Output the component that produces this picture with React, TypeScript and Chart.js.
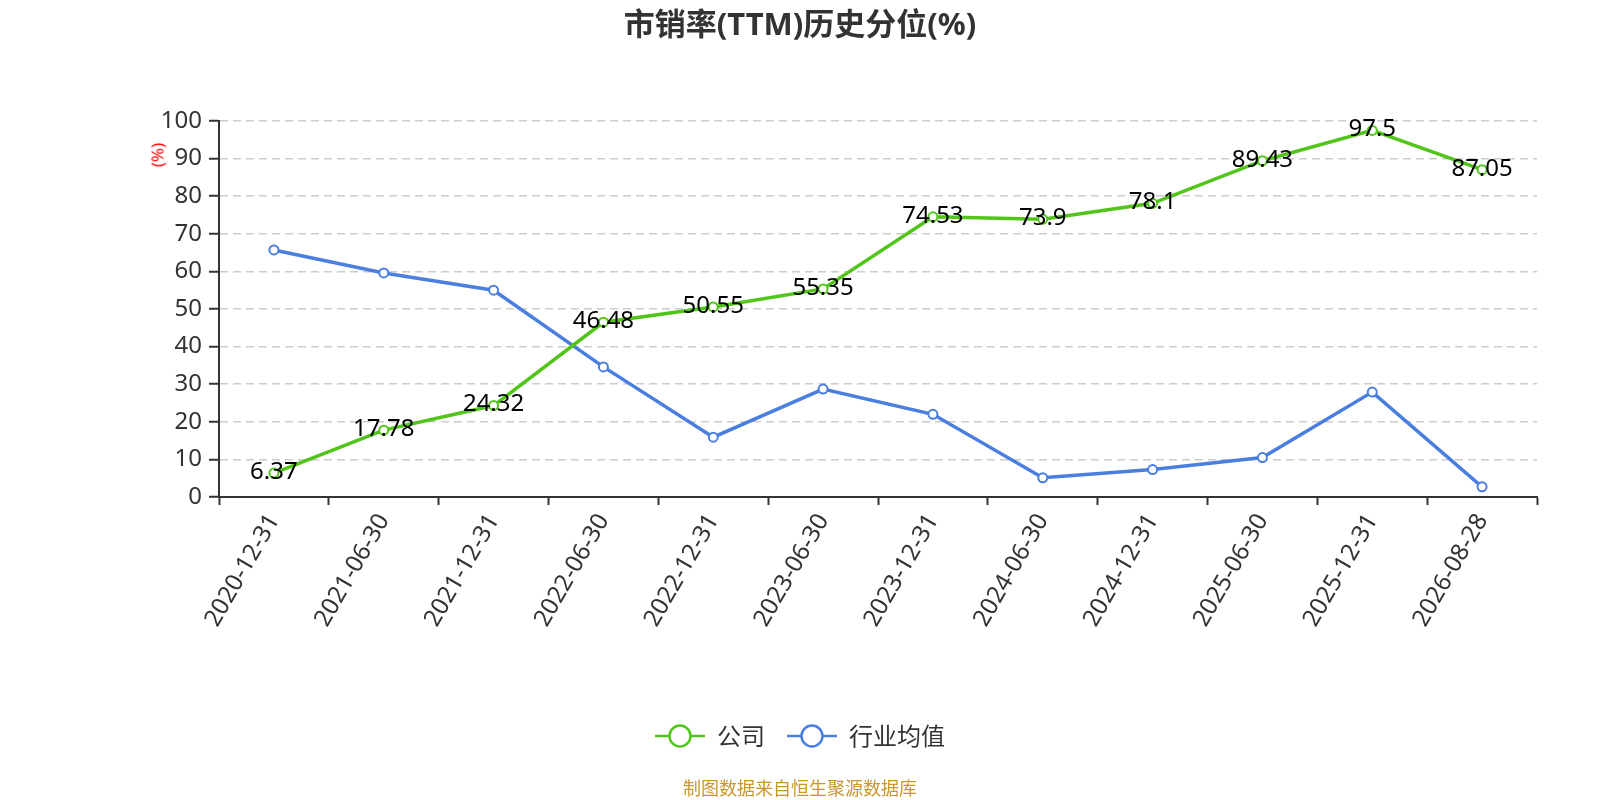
import { useEffect, useRef } from "react";
import { Chart, registerables } from "chart.js";

Chart.register(...registerables);

const FONT = '"Noto Sans", "Noto Sans CJK SC", sans-serif';

const dates = [
  "2020-12-31", "2021-06-30", "2021-12-31", "2022-06-30",
  "2022-12-31", "2023-06-30", "2023-12-31", "2024-06-30",
  "2024-12-31", "2025-06-30", "2025-12-31", "2026-08-28",
];

// 公司
const companyValues = [
  6.37, 17.78, 24.32, 46.48, 50.55, 55.35,
  74.53, 73.9, 78.1, 89.43, 97.5, 87.05,
];

// 行业均值 (no labels)
const industryValues = [
  65.7, 59.6, 55.0, 34.6, 15.9, 28.7,
  22.0, 5.1, 7.3, 10.5, 27.9, 2.7,
];

const yMin = 0;
const yMax = 100;
const yStep = 10;

const GREEN = "#52c41a";
const BLUE = "#4a7fe0";

// value labels over the company line
const valueLabels = {
  id: "valueLabels",
  afterDatasetsDraw(chart: Chart) {
    const { ctx } = chart;
    const meta = chart.getDatasetMeta(0);
    ctx.save();
    ctx.font = `24px ${FONT}`;
    ctx.fillStyle = "#000";
    ctx.textAlign = "center";
    ctx.textBaseline = "middle";
    meta.data.forEach((pt, i) => {
      ctx.fillText(String(companyValues[i]), pt.x, pt.y - 1);
    });
    ctx.restore();
  },
};

function LegendIcon({ color }: { color: string }) {
  return (
    <svg width="50" height="26" style={{ display: "block" }}>
      <line x1="0" y1="13" x2="50" y2="13" stroke={color} strokeWidth="2.5" />
      <circle cx="25" cy="13" r="10.5" fill="#fff" stroke={color} strokeWidth="2.5" />
    </svg>
  );
}

export default function App() {
  const canvasRef = useRef<HTMLCanvasElement>(null);

  useEffect(() => {
    if (!canvasRef.current) return;
    const chart = new Chart(canvasRef.current, {
      type: "line",
      data: {
        labels: dates,
        datasets: [
          {
            label: "公司",
            data: companyValues,
            borderColor: GREEN,
            backgroundColor: "#fff",
            borderWidth: 3.5,
            pointRadius: 4.5,
            pointBorderWidth: 2,
            pointBackgroundColor: "#fff",
            pointBorderColor: GREEN,
            tension: 0,
          },
          {
            label: "行业均值",
            data: industryValues,
            borderColor: BLUE,
            backgroundColor: "#fff",
            borderWidth: 3.5,
            pointRadius: 4.5,
            pointBorderWidth: 2,
            pointBackgroundColor: "#fff",
            pointBorderColor: BLUE,
            tension: 0,
          },
        ],
      },
      options: {
        responsive: true,
        maintainAspectRatio: false,
        animation: false,
        layout: { padding: { top: 121, left: 0, right: 63, bottom: 153 } },
        plugins: {
          legend: { display: false },
          title: { display: false },
          tooltip: { enabled: false },
        },
        scales: {
          x: {
            offset: true,
            afterFit: (scale) => {
              scale.height = 150;
            },
            grid: {
              offset: true,
              drawOnChartArea: false,
              tickLength: 8,
              tickWidth: 2,
              tickColor: "#333",
            },
            border: { display: true, color: "#333", width: 2 },
            ticks: {
              autoSkip: false,
              minRotation: 60,
              maxRotation: 60,
              padding: 4,
              color: "#333",
              font: { size: 24, family: FONT },
            },
          },
          y: {
            min: yMin,
            max: yMax,
            afterFit: (scale) => {
              scale.width = 219;
            },
            grid: {
              color: "#cccccc",
              lineWidth: 1.5,
              tickLength: 10,
              tickWidth: 2,
              tickColor: "#333",
            },
            border: { display: true, color: "#333", width: 2, dash: [8, 5] },
            ticks: {
              stepSize: yStep,
              padding: 7,
              color: "#333",
              font: { size: 24, family: FONT },
            },
          },
        },
      },
      plugins: [valueLabels],
    });
    return () => chart.destroy();
  }, []);

  return (
    <div
      style={{
        position: "absolute",
        left: 0,
        top: 0,
        width: 1600,
        height: 800,
        background: "#fff",
        fontFamily: FONT,
        overflow: "hidden",
      }}
    >
      <canvas ref={canvasRef} />
      <div
        style={{
          position: "absolute",
          top: 3,
          left: 0,
          width: 1600,
          textAlign: "center",
          fontSize: 31,
          fontWeight: 700,
          color: "#333",
          lineHeight: "40px",
        }}
      >
        市销率(TTM)历史分位(%)
      </div>
      <div
        style={{
          position: "absolute",
          left: 157,
          top: 155,
          transform: "translate(-50%, -50%) rotate(-90deg)",
          color: "#ff0000",
          fontSize: 17,
          lineHeight: "17px",
          whiteSpace: "nowrap",
        }}
      >
        (%)
      </div>
      <div
        style={{
          position: "absolute",
          top: 721,
          left: 0,
          width: 1600,
          display: "flex",
          justifyContent: "center",
          alignItems: "center",
          gap: 12,
          fontSize: 24,
          color: "#333",
          lineHeight: "30px",
        }}
      >
        <div style={{ display: "flex", alignItems: "center", gap: 12 }}>
          <LegendIcon color={GREEN} />
          <span>公司</span>
        </div>
        <div style={{ display: "flex", alignItems: "center", gap: 12, marginLeft: 10 }}>
          <LegendIcon color={BLUE} />
          <span>行业均值</span>
        </div>
      </div>
      <div
        style={{
          position: "absolute",
          top: 776,
          left: 0,
          width: 1600,
          textAlign: "center",
          fontSize: 18,
          color: "#c9962c",
          lineHeight: "24px",
        }}
      >
        制图数据来自恒生聚源数据库
      </div>
    </div>
  );
}
